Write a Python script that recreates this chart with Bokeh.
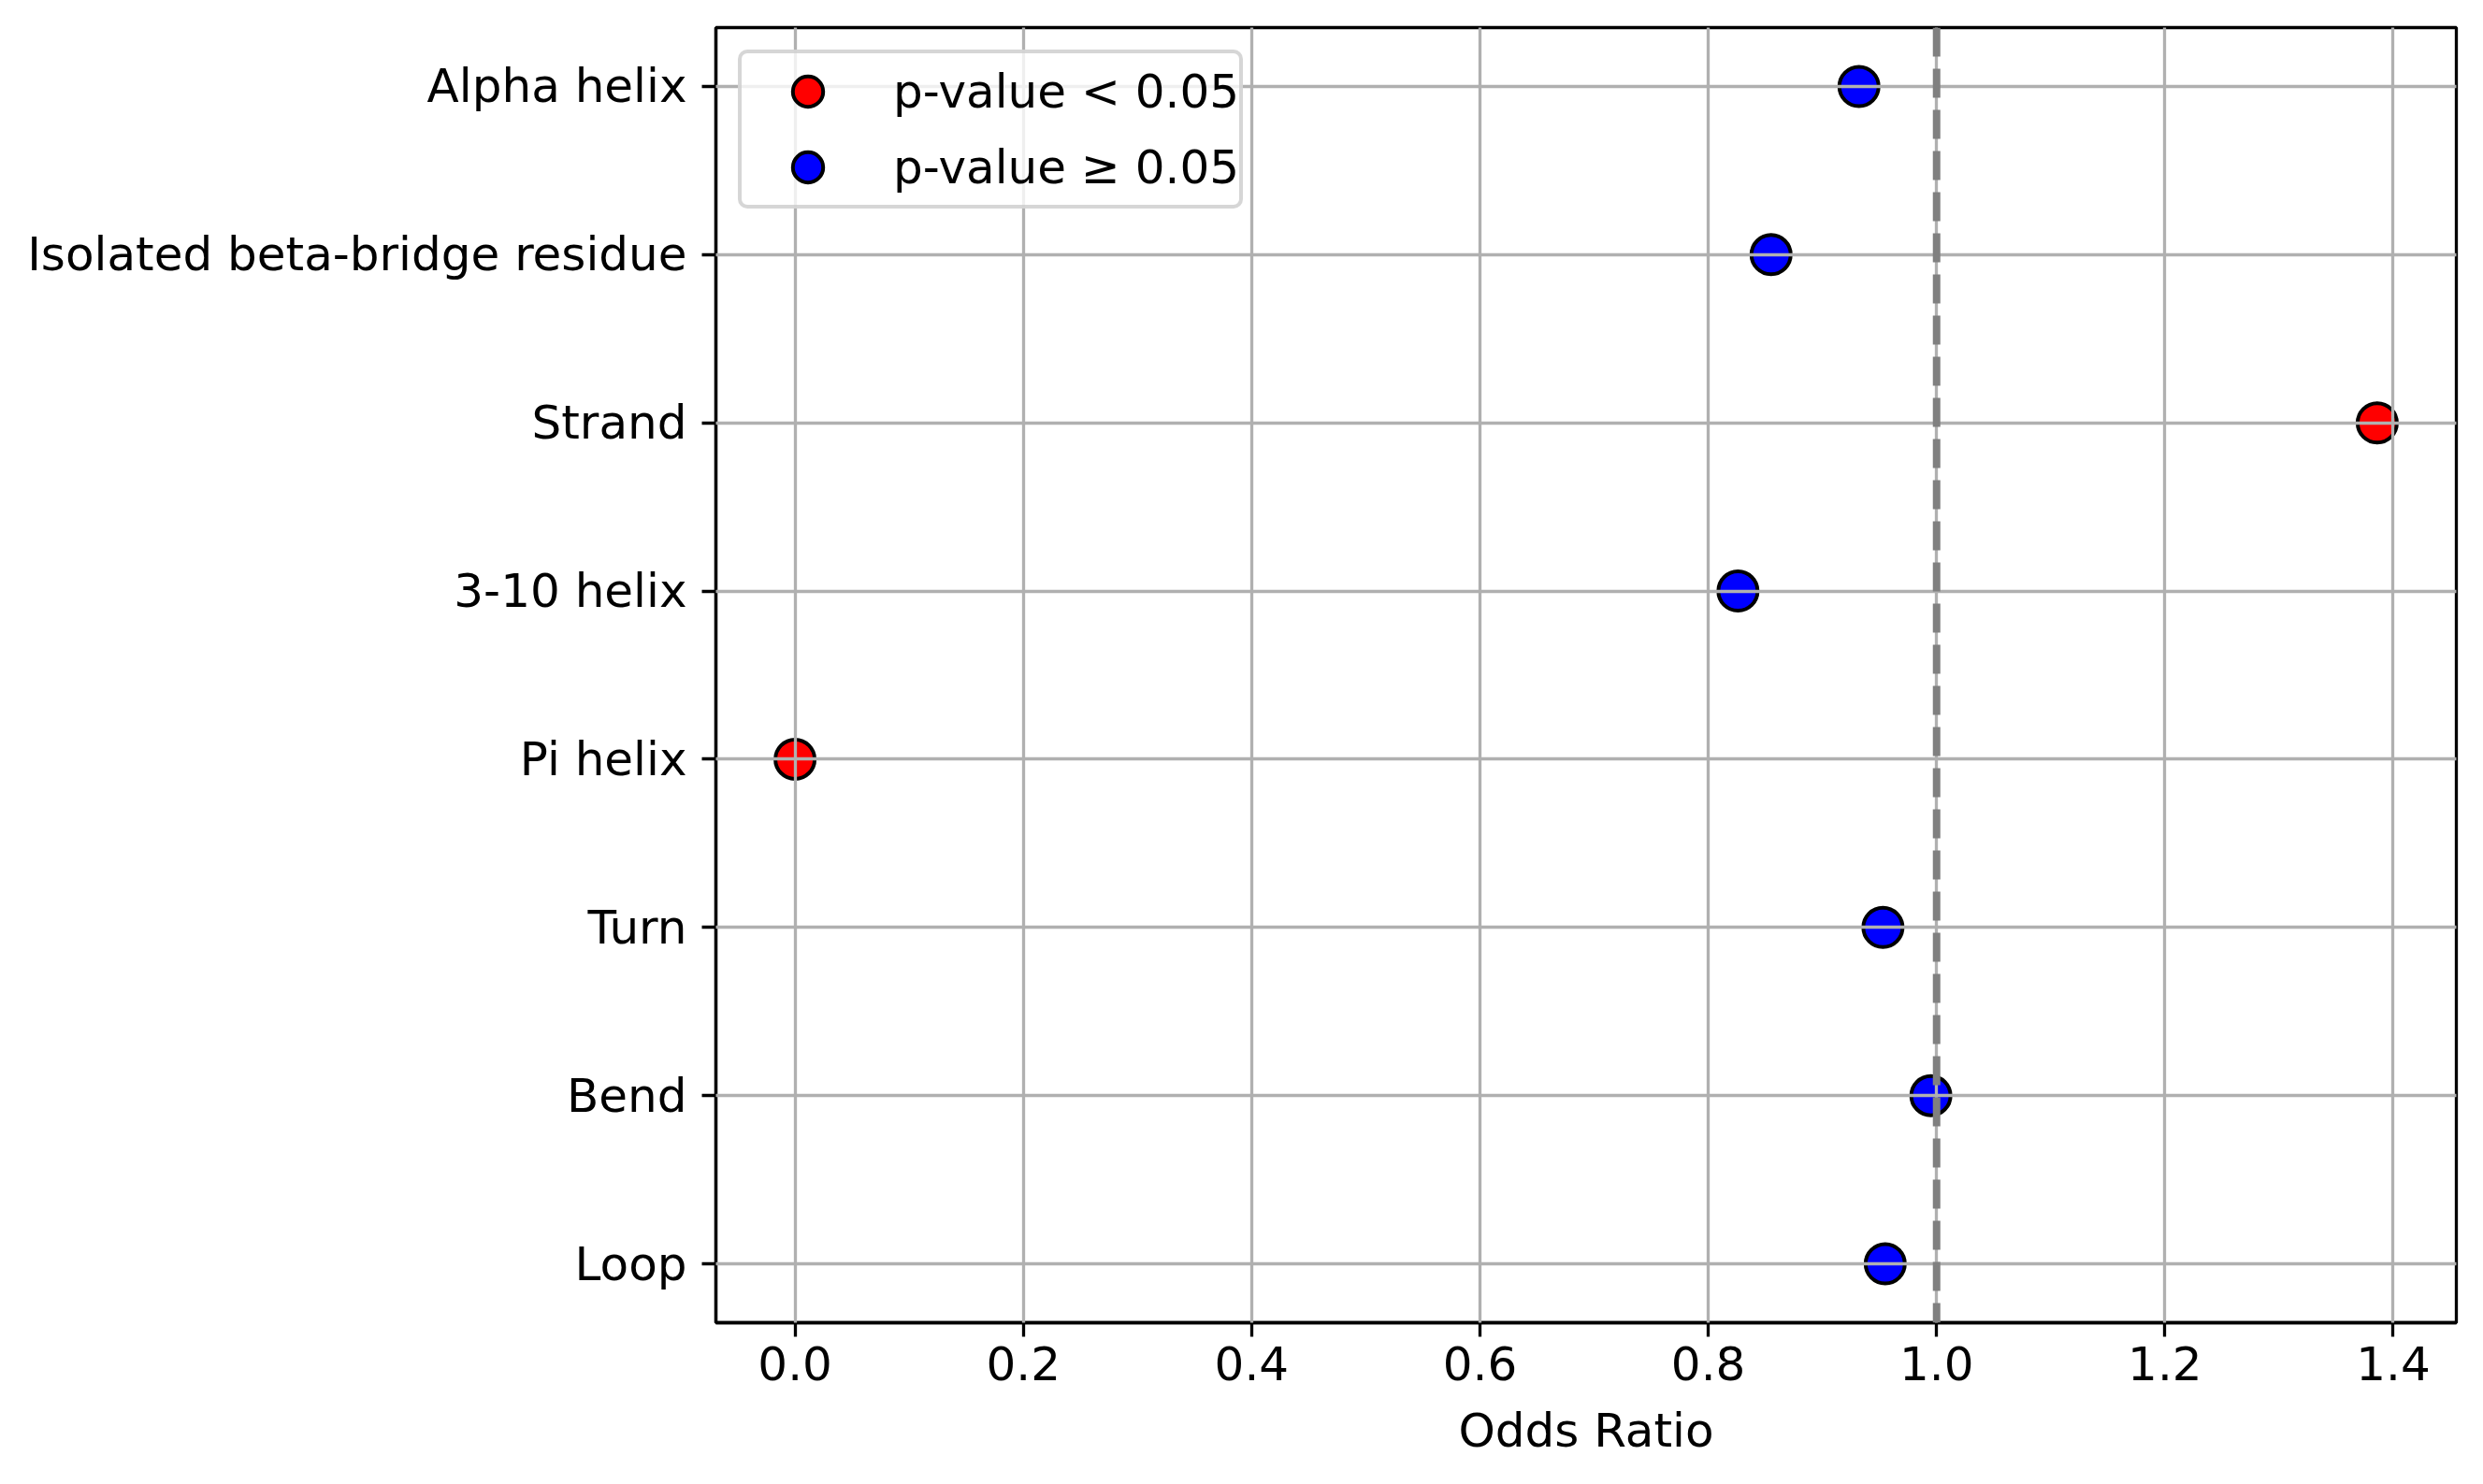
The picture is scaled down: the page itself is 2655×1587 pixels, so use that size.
from bokeh.plotting import figure
from bokeh.models import (Range1d, FixedTicker, Span, Legend, LegendItem,
                          ColumnDataSource, NumeralTickFormatter)
from bokeh.embed import file_html
from bokeh.resources import INLINE

# ---- data -------------------------------------------------------------
categories = ["Alpha helix", "Isolated beta-bridge residue", "Strand",
              "3-10 helix", "Pi helix", "Turn", "Bend", "Loop"]
odds_ratios = [0.932, 0.855, 1.386, 0.826, 0.0, 0.953, 0.995, 0.955]
significant = [False, False, True, False, True, False, False, False]
x_ticks = [0.0, 0.2, 0.4, 0.6, 0.8, 1.0, 1.2, 1.4]
legend_labels = ["p-value < 0.05", "p-value \u2265 0.05"]
ref_line = 1.0

# ---- derived ----------------------------------------------------------
n = len(categories)
ypos = [n - 1 - i for i in range(n)]
lo, hi = min(odds_ratios), max(odds_ratios)
pad = 0.05 * (hi - lo)

def subset(flag):
    idx = [i for i in range(n) if significant[i] == flag]
    return ColumnDataSource(dict(x=[odds_ratios[i] for i in idx],
                                 y=[ypos[i] for i in idx],
                                 cat=[categories[i] for i in idx]))

FONT = "DejaVu Sans"
FS = "50px"
LW = 3.3

p = figure(width=2637, height=1569, output_backend="svg", toolbar_location=None,
           x_range=Range1d(lo - pad, hi + pad),
           y_range=Range1d(-0.35, n - 1 + 0.35),
           min_border_left=765, min_border_right=11,
           min_border_top=29, min_border_bottom=155)
p.background_fill_color = "white"
p.border_fill_color = "white"
p.outline_line_color = "black"
p.outline_line_width = LW

r_sig = p.scatter("x", "y", source=subset(True), size=42, fill_color="red",
                  line_color="black", line_width=4)
r_ns = p.scatter("x", "y", source=subset(False), size=42, fill_color="blue",
                 line_color="black", line_width=4)

p.add_layout(Span(location=ref_line, dimension="height", line_color="#808080",
                  line_width=8, line_dash="31 13"))

# axes
p.xaxis.ticker = FixedTicker(ticks=x_ticks)
p.xaxis.formatter = NumeralTickFormatter(format="0.0")
p.yaxis.ticker = FixedTicker(ticks=ypos)
p.yaxis.major_label_overrides = {ypos[i]: categories[i] for i in range(n)}
for ax in (p.xaxis, p.yaxis):
    ax.axis_line_color = "black"
    ax.axis_line_width = LW
    ax.major_tick_line_color = "black"
    ax.major_tick_line_width = LW
    ax.major_tick_out = 15
    ax.major_tick_in = 0
    ax.minor_tick_line_color = None
    ax.major_label_text_font = FONT
    ax.major_label_text_font_size = FS
    ax.major_label_text_color = "black"
p.xaxis.major_label_standoff = 10
p.yaxis.major_label_standoff = 16
p.xaxis.axis_label = "Odds Ratio"
p.xaxis.axis_label_text_font = FONT
p.xaxis.axis_label_text_font_size = FS
p.xaxis.axis_label_text_font_style = "normal"
p.xaxis.axis_label_text_color = "black"
p.xaxis.axis_label_standoff = 22

# grid (drawn above the markers, as in the reference)
p.xgrid.ticker = FixedTicker(ticks=x_ticks)
p.ygrid.ticker = FixedTicker(ticks=ypos)
for g in (p.xgrid, p.ygrid):
    g.grid_line_color = "#b0b0b0"
    g.grid_line_width = LW
    g.level = "guide"

legend = Legend(items=[LegendItem(label=legend_labels[0], renderers=[r_sig]),
                       LegendItem(label=legend_labels[1], renderers=[r_ns])],
                location="top_left", margin=24, padding=0, spacing=0,
                glyph_width=141, glyph_height=81, label_height=81,
                label_standoff=21, label_text_font=FONT,
                label_text_font_size=FS, label_text_color="black",
                border_line_color="#cccccc", border_line_alpha=0.8,
                border_line_width=4, background_fill_color="white",
                background_fill_alpha=0.8)
try:
    legend.border_radius = 10
except Exception:
    pass
p.add_layout(legend)

open("out.html", "w").write(file_html(p, INLINE))
